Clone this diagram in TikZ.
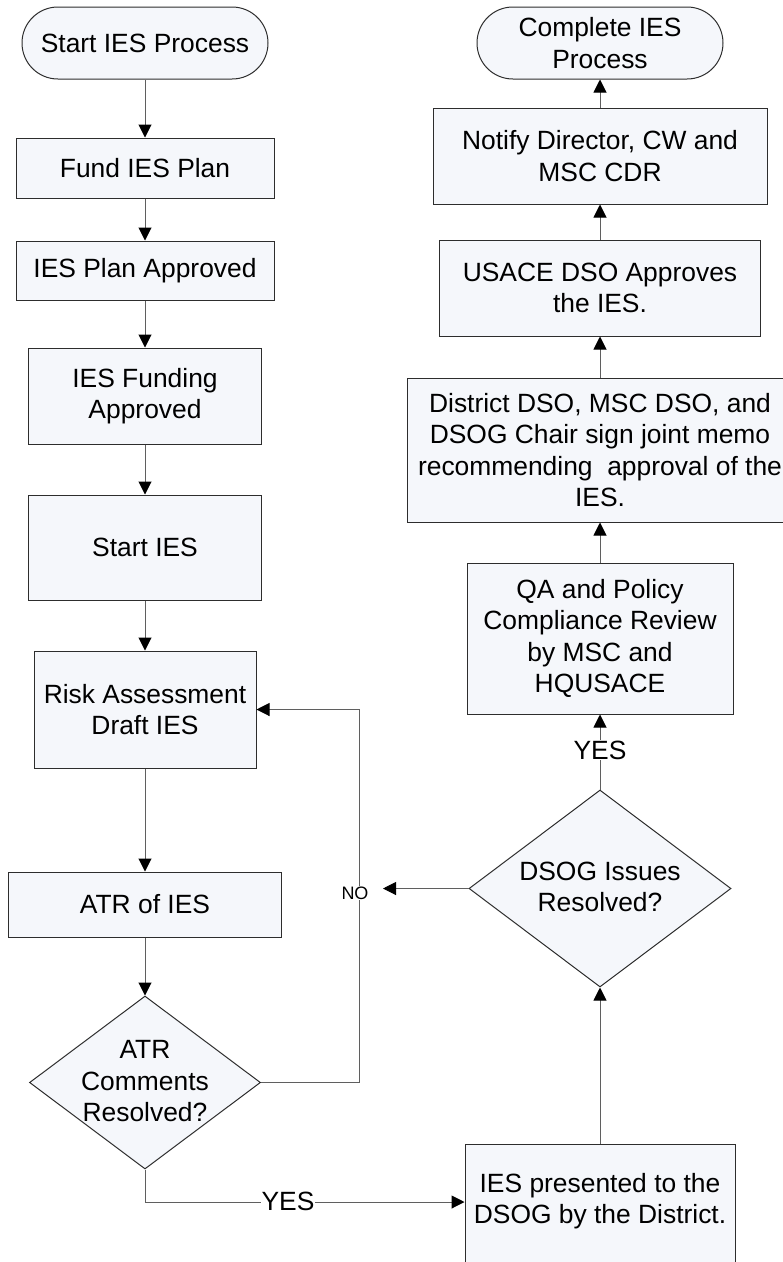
\documentclass[tikz,border=0pt]{standalone}
\usepackage{fontspec}
\setmainfont{Liberation Sans}
\usetikzlibrary{arrows.meta,shapes.geometric}
\definecolor{boxfill}{RGB}{245,247,251}
\definecolor{edgecol}{RGB}{45,45,45}
\definecolor{linecol}{RGB}{95,95,95}
\newcommand{\mydiamtext}[1]{\raisebox{-7.5pt}[0pt][0pt]{\makebox[0pt]{\begin{tabular}{@{}c@{}}#1\end{tabular}}}}
\begin{document}
\begin{tikzpicture}[x=1pt,y=-1pt,
  every node/.style={font=\fontsize{26.4}{31.5}\selectfont},
  proc/.style={draw=edgecol, fill=boxfill, line width=1pt, rectangle, align=center, inner sep=0pt},
  term/.style={proc, rounded corners=35.9pt},
  dec/.style={draw=edgecol, fill=boxfill, line width=1pt, diamond, inner sep=0pt},
  conn/.style={draw=linecol, line width=1pt, -{Triangle[length=13pt,width=13pt,color=black]}},
  lbl/.style={fill=white, inner sep=1pt}]
\useasboundingbox (0,0) rectangle (783,1262);

% left column
\node[term, minimum width=246pt, minimum height=72pt] (start) at (145,43) {Start IES Process};
\node[proc, minimum width=258pt, minimum height=60pt] (fund) at (145,168) {Fund IES Plan};
\node[proc, minimum width=258pt, minimum height=59pt] (planok) at (145,270.5) {IES Plan Approved};
\node[proc, minimum width=233pt, minimum height=96pt] (funding) at (145,396) {IES Funding\\Approved};
\node[proc, minimum width=233pt, minimum height=105pt] (starties) at (145,547.5) {Start IES};
\node[proc, minimum width=222pt, minimum height=117pt] (risk) at (145,709.5) {Risk Assessment\\Draft IES};
\node[proc, minimum width=273pt, minimum height=65pt] (atr) at (145,904.5) {ATR of IES};
\node[dec, minimum width=231pt, minimum height=173pt] (atrdec) at (145,1082.5) {\mydiamtext{ATR\\Comments\\Resolved?}};

% right column
\node[proc, minimum width=270pt, minimum height=150pt] (present) at (600,1219) {IES presented to the\\DSOG by the District.\\\strut};
\node[dec, minimum width=262pt, minimum height=197pt] (dsog) at (600,888.5) {\mydiamtext{DSOG Issues\\Resolved?}};
\node[proc, minimum width=266pt, minimum height=151pt] (qa) at (600,638.5) {QA and Policy\\Compliance Review\\by MSC and\\HQUSACE};
\node[proc, minimum width=386pt, minimum height=144pt] (district) at (600,450) {District DSO, MSC DSO, and\\DSOG Chair sign joint memo\\recommending\ \ approval of the\\IES.};
\node[proc, minimum width=321pt, minimum height=96pt] (usace) at (600,288) {USACE DSO Approves\\the IES.};
\node[proc, minimum width=334pt, minimum height=96pt] (notify) at (600,156) {Notify Director, CW and\\MSC CDR};
\node[term, minimum width=246pt, minimum height=72pt] (done) at (600,43) {Complete IES\\Process};

% connectors
\draw[conn] (start) -- (fund);
\draw[conn] (fund) -- (planok);
\draw[conn] (planok) -- (funding);
\draw[conn] (funding) -- (starties);
\draw[conn] (starties) -- (risk);
\draw[conn] (risk) -- (atr);
\draw[conn] (atr) -- (atrdec);
\coordinate (loopx) at (359,0);
\draw[conn] (atrdec.east) -- (atrdec.east -| loopx) -- (risk.east -| loopx) -- (risk.east);
\coordinate (yesrow) at (0,1202);
\draw[conn] (atrdec.south) |- (present.west |- yesrow);
\draw[conn] (present) -- (dsog);
\coordinate (noend) at (383,888.5);
\draw[conn] (dsog.west) -- (noend);
\draw[conn] (dsog) -- (qa);
\draw[conn] (qa) -- (district);
\draw[conn] (district) -- (usace);
\draw[conn] (usace) -- (notify);
\draw[conn] (notify) -- (done);

% labels
\node[lbl] (yes1) at (288,1201) {YES};
\node[lbl] (yes2) at (600,750) {YES};
\node[lbl, font=\fontsize{18}{21}\selectfont] (no) at (355,893) {NO};
\end{tikzpicture}
\end{document}
